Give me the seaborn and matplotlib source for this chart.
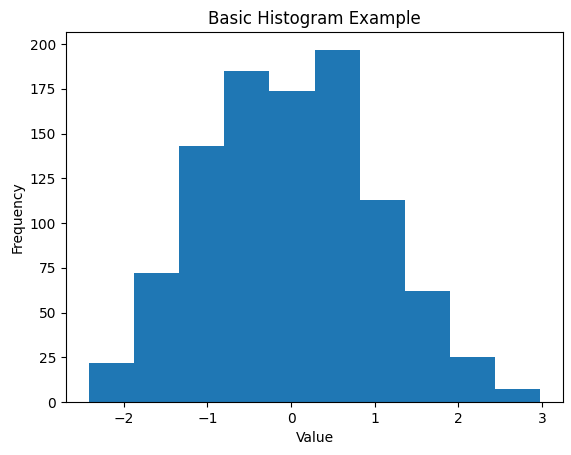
import numpy as np
import pandas as pd
import seaborn as sns
import matplotlib.pyplot as plt

# bin range and counts
bin_lo = -2.42
bin_hi = 2.98
counts = [22, 72, 143, 185, 174, 197, 113, 62, 25, 7]

edges = np.linspace(bin_lo, bin_hi, len(counts) + 1)
df = pd.DataFrame({"value": (edges[:-1] + edges[1:]) / 2, "count": counts})

fig, ax = plt.subplots(figsize=(5.71, 4.55), dpi=100)
fig.subplots_adjust(left=66 / 571, right=563 / 571, top=1 - 32 / 455, bottom=1 - 402 / 455)

sns.histplot(data=df, x="value", weights="count", bins=len(counts),
             binrange=(bin_lo, bin_hi), color="#1f77b4",
             alpha=1, linewidth=0, ax=ax)

ax.set_title("Basic Histogram Example")
ax.set_xlabel("Value")
ax.set_ylabel("Frequency")

fig.savefig("out.png", dpi=100)
